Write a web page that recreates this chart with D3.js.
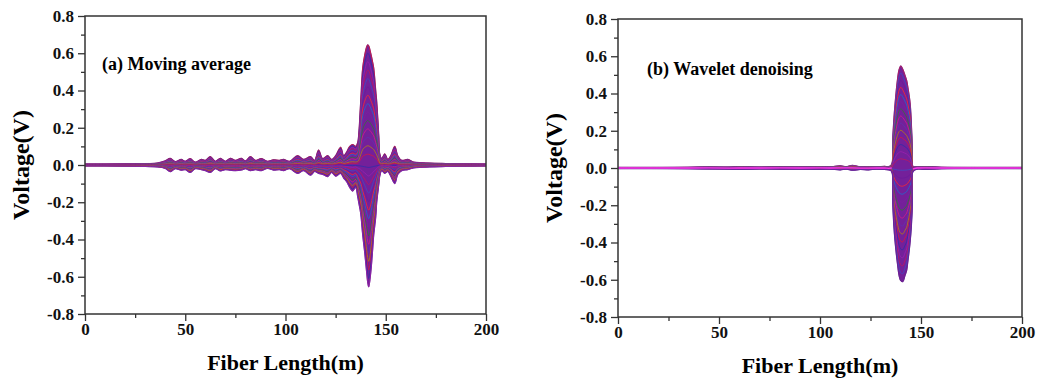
<!DOCTYPE html>
<html>
<head>
<meta charset="utf-8">
<script src="https://cdn.jsdelivr.net/npm/d3@7"></script>
<style>
  body { margin: 0; background: #fff; }
  svg { display: block; }
</style>
</head>
<body>
<div id="chart"></div>
<script>
// ---- data ----
// fiber length (m) and the upper / lower envelope of the trace bundle (V)
const lengthA = [0, 10, 20, 30, 36,
  40, 42.5, 45, 48, 50,
  52.5, 55, 58, 60, 62.5,
  65, 67.5, 70, 72.5, 75,
  78, 80, 82.5, 85, 88,
  91, 94, 97, 99, 102,
  106, 109, 112.5, 114.5, 116.5,
  118.5, 121, 123, 125, 127.5,
  129, 130.5, 132, 133.5, 135,
  136, 136.5, 137.5, 138.5, 139.5,
  140.5, 141, 141.5, 142.5, 143.5,
  144, 145, 145.5, 146.5, 147,
  148, 149.5, 151, 152.5, 154.5,
  156, 158, 161, 164, 168,
  172, 180, 190, 200];
const upperA = [0.005, 0.005, 0.006, 0.008, 0.010,
  0.022, 0.036, 0.018, 0.030, 0.020,
  0.034, 0.015, 0.030, 0.025, 0.045,
  0.020, 0.036, 0.020, 0.036, 0.025,
  0.036, 0.022, 0.045, 0.025, 0.035,
  0.020, 0.028, 0.025, 0.030, 0.020,
  0.050, 0.030, 0.045, 0.025, 0.080,
  0.035, 0.050, 0.030, 0.050, 0.095,
  0.050, 0.070, 0.100, 0.110, 0.100,
  0.120, 0.160, 0.340, 0.520, 0.590,
  0.635, 0.645, 0.640, 0.600, 0.550,
  0.520, 0.400, 0.340, 0.160, 0.060,
  0.035, 0.060, 0.030, 0.050, 0.100,
  0.050, 0.025, 0.030, 0.015, 0.012,
  0.010, 0.008, 0.006, 0.005];
const lowerA = [-0.005, -0.005, -0.006, -0.008, -0.010,
  -0.018, -0.036, -0.020, -0.028, -0.025,
  -0.040, -0.020, -0.025, -0.030, -0.040,
  -0.020, -0.032, -0.025, -0.028, -0.030,
  -0.027, -0.020, -0.030, -0.025, -0.030,
  -0.018, -0.027, -0.025, -0.030, -0.020,
  -0.045, -0.030, -0.055, -0.035, -0.045,
  -0.050, -0.062, -0.040, -0.060, -0.045,
  -0.070, -0.090, -0.120, -0.140, -0.120,
  -0.170, -0.200, -0.260, -0.376, -0.470,
  -0.580, -0.630, -0.655, -0.580, -0.450,
  -0.376, -0.280, -0.200, -0.107, -0.060,
  -0.030, -0.045, -0.035, -0.060, -0.100,
  -0.050, -0.030, -0.025, -0.015, -0.012,
  -0.010, -0.008, -0.006, -0.005];

const lengthB = [0, 20, 35, 45, 55,
  60, 70, 80, 90, 100,
  105, 110, 113, 116, 120,
  124, 128, 132, 134, 135.5,
  136, 136.5, 137.2, 138.3, 139.2,
  140, 141, 142, 142.9, 143.4,
  144.6, 145.3, 145.7, 146, 148,
  152, 160, 175, 200];
const upperB = [0.003, 0.003, 0.004, 0.006, 0.005,
  0.008, 0.005, 0.007, 0.006, 0.008,
  0.006, 0.012, 0.007, 0.014, 0.006,
  0.008, 0.006, 0.009, 0.007, 0.020,
  0.150, 0.250, 0.350, 0.470, 0.530,
  0.548, 0.530, 0.500, 0.470, 0.440,
  0.350, 0.220, 0.100, 0.010, 0.006,
  0.008, 0.004, 0.003, 0.003];
const lowerB = [-0.003, -0.003, -0.004, -0.005, -0.006,
  -0.008, -0.005, -0.006, -0.006, -0.007,
  -0.006, -0.010, -0.006, -0.012, -0.008,
  -0.010, -0.006, -0.008, -0.010, -0.020,
  -0.180, -0.300, -0.400, -0.510, -0.580,
  -0.605, -0.610, -0.580, -0.550, -0.510,
  -0.400, -0.300, -0.200, -0.020, -0.006,
  -0.007, -0.004, -0.003, -0.003];

// where each drawn trace sits inside the bundle (1 = upper edge, -1 = lower edge)
const traceLevels = [1, 0.93, 0.86, 0.79, 0.72, 0.65, 0.58, 0.51, 0.44, 0.37, 0.3, 0.23, 0.16, 0.09,
  -0.02, -0.09, -0.16, -0.23, -0.3, -0.37, -0.44, -0.51, -0.58, -0.65, -0.72, -0.79, -0.86, -0.93, -1];
const traceColors = ["#e0163a", "#2b2fa8", "#9c1fb0", "#c2185b", "#3d4fc4", "#6a1b9a",
  "#ff2a2a", "#1c6fd1", "#7b1fa2", "#2e7d32", "#d81b8a", "#5e35b1", "#b8860b"];

const xTicks = [0, 50, 100, 150, 200];
const xMinor = [25, 75, 125, 175];
const yTicks = [-0.8, -0.6, -0.4, -0.2, 0.0, 0.2, 0.4, 0.6, 0.8];
const yMinor = [-0.7, -0.5, -0.3, -0.1, 0.1, 0.3, 0.5, 0.7];

const panels = [
  { title: "(a) Moving average", len: lengthA, up: upperA, lo: lowerA,
    left: 85, right: 486, top: 16, bottom: 314, titleX: 102, titleY: 70, yLabX: 29, xLabY: 370, zeroLine: null },
  { title: "(b) Wavelet denoising", len: lengthB, up: upperB, lo: lowerB,
    left: 618, right: 1022, top: 19, bottom: 317, titleX: 647, titleY: 75, yLabX: 562, xLabY: 373, zeroLine: "#ff33ee" }
];

const W = 1039, H = 381;
const svg = d3.select("#chart").append("svg")
  .attr("width", W).attr("height", H)
  .style("background", "#fff");

const serif = "'Liberation Serif', 'Times New Roman', serif";

function styleAxis(g) {
  g.select(".domain").remove();
  g.selectAll(".tick line").attr("stroke", "#333").attr("stroke-width", 1.3);
  g.selectAll(".tick text")
    .attr("fill", "#111")
    .style("font-family", serif)
    .style("font-size", "17px")
    .style("font-weight", "bold");
}

panels.forEach((p, pi) => {
  const x = d3.scaleLinear().domain([0, 200]).range([p.left, p.right]);
  const y = d3.scaleLinear().domain([-0.8, 0.8]).range([p.bottom, p.top]);
  const rows = p.len.map((m, i) => ({ m: m, up: p.up[i], lo: p.lo[i] }));

  const clipId = "clip" + pi;
  svg.append("clipPath").attr("id", clipId)
    .append("rect").attr("x", p.left).attr("y", p.top)
    .attr("width", p.right - p.left).attr("height", p.bottom - p.top);

  const plot = svg.append("g").attr("clip-path", `url(#${clipId})`);

  // filled bundle
  const area = d3.area()
    .x(d => x(d.m)).y0(d => y(d.lo)).y1(d => y(d.up))
    .curve(d3.curveCatmullRom.alpha(0.5));
  plot.append("path").datum(rows)
    .attr("d", area)
    .attr("fill", "#74209a")
    .attr("stroke", "#6d2a8c").attr("stroke-width", 1.2);

  // individual traces
  traceLevels.forEach((lv, k) => {
    const line = d3.line()
      .x(d => x(d.m))
      .y(d => y(lv >= 0 ? lv * d.up : -lv * d.lo))
      .curve(d3.curveCatmullRom.alpha(0.5));
    plot.append("path").datum(rows)
      .attr("d", line)
      .attr("fill", "none")
      .attr("stroke", traceColors[(k + pi * 3) % traceColors.length])
      .attr("stroke-width", 0.9)
      .attr("stroke-opacity", 0.85);
  });

  // thin baseline trace outside the main lobe (panel b)
  if (p.zeroLine) {
    plot.append("path").datum(rows)
      .attr("d", d3.line()
        .defined(d => d.up < 0.03)
        .x(d => x(d.m)).y(d => y((d.up + d.lo) / 2)))
      .attr("fill", "none").attr("stroke", p.zeroLine).attr("stroke-width", 1.3);
  }

  // frame
  svg.append("rect")
    .attr("x", p.left).attr("y", p.top)
    .attr("width", p.right - p.left).attr("height", p.bottom - p.top)
    .attr("fill", "none").attr("stroke", "#333").attr("stroke-width", 1.5);

  // axes (hyphen minus like the original, not the unicode minus)
  svg.append("g").attr("transform", `translate(0,${p.bottom})`)
    .call(d3.axisBottom(x).tickValues(xTicks).tickSize(7).tickPadding(2).tickFormat(d => String(d)))
    .call(styleAxis);
  svg.append("g").attr("transform", `translate(0,${p.bottom})`)
    .call(d3.axisBottom(x).tickValues(xMinor).tickSize(4).tickFormat(""))
    .call(styleAxis);
  svg.append("g").attr("transform", `translate(${p.left},0)`)
    .call(d3.axisLeft(y).tickValues(yTicks).tickSize(7).tickPadding(4).tickFormat(d => d.toFixed(1)))
    .call(styleAxis);
  svg.append("g").attr("transform", `translate(${p.left},0)`)
    .call(d3.axisLeft(y).tickValues(yMinor).tickSize(4).tickFormat(""))
    .call(styleAxis);

  // labels
  svg.append("text")
    .attr("x", p.titleX).attr("y", p.titleY)
    .attr("font-family", serif).attr("font-weight", "bold").attr("font-size", 18)
    .attr("fill", "#000")
    .text(p.title);

  svg.append("text")
    .attr("transform", `translate(${p.yLabX},${(p.top + p.bottom) / 2}) rotate(-90)`)
    .attr("text-anchor", "middle")
    .attr("font-family", serif).attr("font-weight", "bold").attr("font-size", 24)
    .attr("fill", "#000")
    .text("Voltage(V)");

  svg.append("text")
    .attr("x", (p.left + p.right) / 2).attr("y", p.xLabY)
    .attr("text-anchor", "middle")
    .attr("font-family", serif).attr("font-weight", "bold").attr("font-size", 22)
    .attr("fill", "#000")
    .text("Fiber Length(m)");
});
</script>
</body>
</html>
